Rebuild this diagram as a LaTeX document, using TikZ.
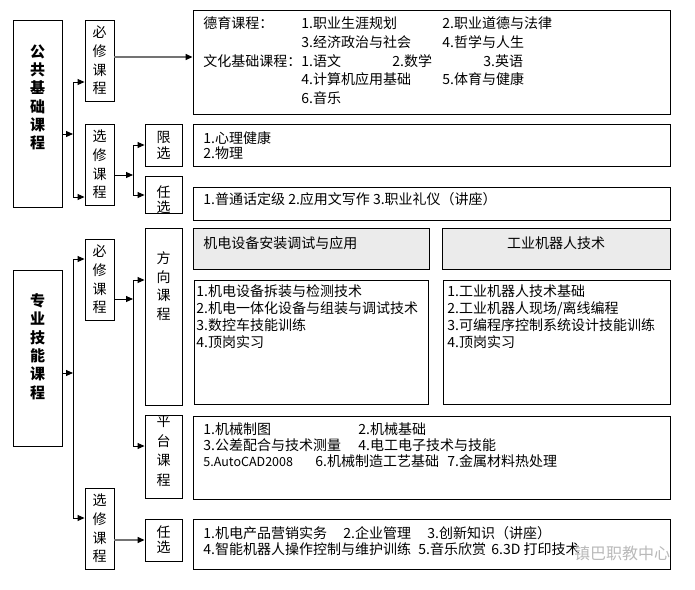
\documentclass[tikz,border=0pt]{standalone}
\usepackage{fontspec}
\setmainfont{Noto Sans CJK SC}
\usetikzlibrary{arrows.meta, calc}

\definecolor{headgray}{RGB}{235,235,235}

\tikzset{
  box/.style={draw, line width=0.9pt, inner sep=0pt},
  tag/.style={box, minimum width=29pt, minimum height=81pt, align=center,
    font=\fontsize{14}{18.7}\selectfont},
  pick/.style={box, minimum width=37pt, minimum height=42pt, align=center,
    font=\fontsize{14}{16}\selectfont},
  stack/.style={inner sep=0pt, align=center, font=\fontsize{14}{18.7}\selectfont},
  headline/.style={inner sep=0pt, align=center, font=\bfseries\fontsize{15}{18.3}\selectfont},
  panel/.style={box, minimum width=477pt},
  subhead/.style={box, fill=headgray, minimum height=41pt},
  txt/.style={anchor=base west, inner sep=0pt, font=\fontsize{14}{17}\selectfont},
  link/.style={line width=0.9pt, -{Triangle[length=7pt, width=6pt]}},
  graylink/.style={draw=black!55, line width=1.4pt, -{Triangle[length=7pt, width=6pt, black]}}
}

\begin{document}
\begin{tikzpicture}[x=1pt, y=-1pt, line width=0.9pt]
  \useasboundingbox (0,0) rectangle (695,589);

  % Main groups
  \node[box, minimum width=49pt, minimum height=187pt] (pub) at (37.5,113.5) {};
  \node[headline] (pubname) at ([yshift=16pt]pub.center) {公\\共\\基\\础\\课\\程};
  \node[box, minimum width=49pt, minimum height=176pt] (pro) at (37.5,358) {};
  \node[headline] (proname) at ([yshift=11.5pt]pro.center) {专\\业\\技\\能\\课\\程};

  % Compulsory / elective
  \node[tag] (req1) at (99.5,60.5) {必\\修\\课\\程};
  \node[tag] (ele1) at (99.5,164.5) {选\\修\\课\\程};
  \node[tag] (req2) at (99.5,279.5) {必\\修\\课\\程};
  \node[tag] (ele2) at (99.5,528.5) {选\\修\\课\\程};

  % Third column
  \node[pick] (lim) at (163.5,145) {限\\选};
  \node[pick, minimum height=37pt] (opt1) at (163.5,194.5) {};
  \node[stack, font=\fontsize{14}{15}\selectfont] (opt1name) at ([yshift=-5pt]opt1.center) {任\\选};
  \node[box, minimum width=37pt, minimum height=177pt] (dir) at (163.5,316.5) {};
  \node[stack] (dirname) at ([yshift=30.5pt]dir.center) {方\\向\\课\\程};
  \node[box, minimum width=37pt, minimum height=83pt] (plat) at (163.5,456.5) {};
  \node[stack, font=\fontsize{14}{19.5}\selectfont] (platname) at ([yshift=5.5pt]plat.center) {平\\台\\课\\程};
  \node[pick, font=\fontsize{14}{15}\selectfont] (opt2) at (163.5,540) {任\\选};

  % Course panels
  \node[panel, minimum height=104pt] (core) at (431.5,62) {};
  \node[panel, minimum height=42pt] (limbox) at (431.5,145) {};
  \node[panel, minimum height=33pt] (optbox) at (431.5,203.5) {};
  \node[subhead, minimum width=236pt] (headA) at (311,248.5) {};
  \node[subhead, minimum width=228pt] (headB) at (556,248.5) {};
  \node[box, minimum width=234pt, minimum height=124pt] (listA) at (311,342) {};
  \node[box, minimum width=227pt, minimum height=124pt] (listB) at (556.5,342) {};
  \node[panel, minimum height=83pt] (platbox) at (431.5,457.5) {};
  \node[panel, minimum height=50pt] (freebox) at (431.5,544) {};

  % Public basics
  \node[txt] at (203,28.5) {德育课程：};
  \node[txt] at (301,28.5) {1.职业生涯规划};
  \node[txt] at (442,28.5) {2.职业道德与法律};
  \node[txt] at (301,47.25) {3.经济政治与社会};
  \node[txt] at (442,47.25) {4.哲学与人生};
  \node[txt] at (203,66) {文化基础课程：};
  \node[txt] at (301,66) {1.语文};
  \node[txt] at (392,66) {2.数学};
  \node[txt] at (483,66) {3.英语};
  \node[txt] at (301,84.75) {4.计算机应用基础};
  \node[txt] at (442,84.75) {5.体育与健康};
  \node[txt] at (301,103.5) {6.音乐};

  \node[txt] at (203,143) {1.心理健康};
  \node[txt] at (203,158) {2.物理};
  \node[txt] at (203,204) {1.普通话定级 2.应用文写作 3.职业礼仪（讲座）};

  % Direction courses
  \node[txt] at (203,248) {机电设备安装调试与应用};
  \node[txt, anchor=base] at (556,248) {工业机器人技术};
  \foreach \t [count=\i] in {{机电设备拆装与检测技术}, {机电一体化设备与组装与调试技术},
      {数控车技能训练}, {顶岗实习}}
    \node[txt] at (196,{296+17*(\i-1)}) {\i.\t};
  \foreach \t [count=\i] in {{工业机器人技术基础}, {工业机器人现场/离线编程},
      {可编程序控制系统设计技能训练}, {顶岗实习}}
    \node[txt] at (447,{296+17*(\i-1)}) {\i.\t};

  % Platform courses
  \node[txt] at (203,434) {1.机械制图};
  \node[txt] at (358,434) {2.机械基础};
  \node[txt] at (203,450) {3.公差配合与技术测量};
  \node[txt] at (358,450) {4.电工电子技术与技能};
  \node[txt, font=\fontsize{12.5}{15}\selectfont] at (203,466) {5.AutoCAD2008};
  \node[txt] at (315,466) {6.机械制造工艺基础};
  \node[txt] at (447,466) {7.金属材料热处理};

  % Free electives
  \node[txt] at (203,538) {1.机电产品营销实务};
  \node[txt] at (343,538) {2.企业管理};
  \node[txt] at (427,538) {3.创新知识（讲座）};
  \node[txt] at (203,554.5) {4.智能机器人操作控制与维护训练};
  \node[txt] at (418,554.5) {5.音乐欣赏};
  \node[txt] at (491,554.5) {6.3D 打印技术};
  \node[text=gray!55, font=\fontsize{16}{16}\selectfont, inner sep=0pt] (mark) at (622,553) {镇巴职教中心};

  % Connectors, upper half
  \coordinate (pubfork) at (73,134);
  \coordinate (pubup) at (73,82);
  \coordinate (publow) at (73,197);
  \draw[link] (pubfork -| pub.east) -- (pubfork);
  \draw (pubup) -- (publow);
  \draw[link] (pubup) -- (pubup -| req1.west);
  \draw[link] (publow) -- (publow -| ele1.west);
  \draw[graylink] ([yshift=3.5pt]req1.east) -- ([yshift=3.5pt]req1.east -| core.west);

  \coordinate (elefork) at (133,175);
  \coordinate (eleup) at (133,145);
  \coordinate (elelow) at (133,195);
  \draw[link] (elefork -| ele1.east) -- (elefork);
  \draw (eleup) -- (elelow);
  \draw[link] (eleup) -- (eleup -| lim.west);
  \draw[link] (elelow) -- (elelow -| opt1.west);

  % Connectors, lower half
  \coordinate (profork) at (73,373);
  \coordinate (proup) at (73,259);
  \coordinate (prolow) at (73,518);
  \draw[link] (profork -| pro.east) -- (profork);
  \draw (proup) -- (prolow);
  \draw[link] (proup) -- (proup -| req2.west);
  \draw[link] (prolow) -- (prolow -| ele2.west);

  \coordinate (reqfork) at (133,299);
  \coordinate (requp) at (133,280);
  \coordinate (reqlow) at (133,446);
  \draw[link] (reqfork -| req2.east) -- (reqfork);
  \draw (requp) -- (reqlow);
  \draw[link] (requp) -- (requp -| dir.west);
  \draw[link] (reqlow) -- (reqlow -| plat.west);
  \draw[graylink] (ele2.east |- opt2.west) -- (opt2.west);
\end{tikzpicture}
\end{document}
